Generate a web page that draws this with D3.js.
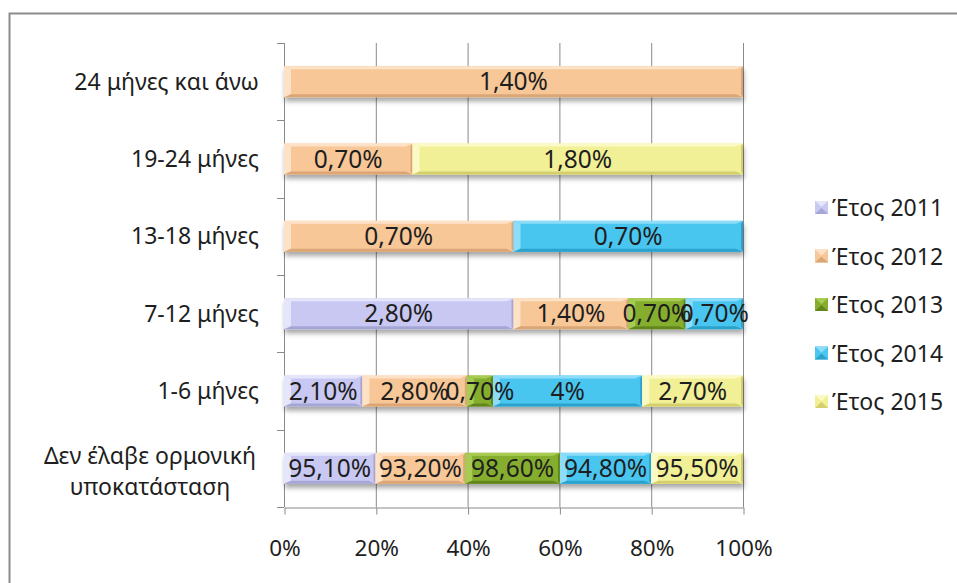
<!DOCTYPE html>
<html>
<head>
<meta charset="utf-8">
<script src="https://cdn.jsdelivr.net/npm/d3@7"></script>
<style>
  html, body { margin: 0; padding: 0; background: #fff; }
  svg { display: block; }
  text { font-family: "Noto Sans", "Open Sans", sans-serif; fill: #1e1e1e; }
</style>
</head>
<body>
<svg id="chart" width="957" height="583"></svg>
<script>
// Duration categories, bottom to top
const categories = [
  ["Δεν έλαβε ορμονική", "υποκατάσταση"],
  ["1-6 μήνες"],
  ["7-12 μήνες"],
  ["13-18 μήνες"],
  ["19-24 μήνες"],
  ["24 μήνες και άνω"]
];
const seriesNames = ["Έτος 2011", "Έτος 2012", "Έτος 2013", "Έτος 2014", "Έτος 2015"];
// Percentages per year, one entry per category (same order as categories)
const year2011 = [95.1, 2.1, 2.8, 0,   0,   0];
const year2012 = [93.2, 2.8, 1.4, 0.7, 0.7, 1.4];
const year2013 = [98.6, 0.7, 0.7, 0,   0,   0];
const year2014 = [94.8, 4.0, 0.7, 0.7, 0,   0];
const year2015 = [95.5, 2.7, 0,   0,   1.8, 0];
const xTicks = [0, 0.2, 0.4, 0.6, 0.8, 1];

const seriesValues = [year2011, year2012, year2013, year2014, year2015];
const colors = [
  { base: "#c8c8f2", light: "#e6e6fb", dark: "#a6a6d6" },
  { base: "#f8c797", light: "#fde2c8", dark: "#dba676" },
  { base: "#86ae2e", light: "#a8cc52", dark: "#62861c" },
  { base: "#4ac6f0", light: "#8ddcf8", dark: "#2aa2cc" },
  { base: "#f2f096", light: "#fbfac6", dark: "#d2cf6c" }
];

const svg = d3.select("#chart");

// frame
svg.append("path")
  .attr("d", "M9.5,583 V13.5 H957")
  .attr("fill", "none").attr("stroke", "#8c8c8c").attr("stroke-width", 2);

const plot = { left: 284, right: 743, top: 43, bottom: 507 };

const x = d3.scaleLinear().domain([0, 1]).range([plot.left, plot.right]);
const y = d3.scaleBand()
  .domain(d3.range(categories.length).reverse())
  .range([plot.top, plot.bottom])
  .paddingInner(0.6).paddingOuter(0.3);

const defs = svg.append("defs");
const shadow = defs.append("filter").attr("id", "shadow")
  .attr("x", "-5%").attr("y", "-20%").attr("width", "110%").attr("height", "160%");
shadow.append("feGaussianBlur").attr("in", "SourceAlpha").attr("stdDeviation", 2.5);
shadow.append("feOffset").attr("dx", 1).attr("dy", 4).attr("result", "blur");
shadow.append("feComponentTransfer").append("feFuncA").attr("type", "linear").attr("slope", 0.35);
const merge = shadow.append("feMerge");
merge.append("feMergeNode");
merge.append("feMergeNode").attr("in", "SourceGraphic");

// gridlines
const grid = svg.append("g");
grid.selectAll("line").data(xTicks.slice(1)).join("line")
  .attr("x1", d => x(d) + 0.5).attr("x2", d => x(d) + 0.5)
  .attr("y1", plot.top).attr("y2", plot.bottom)
  .attr("stroke", "#8a8a8a").attr("stroke-width", 1);

// x axis
const xAxis = d3.axisBottom(x).tickValues(xTicks)
  .tickFormat(d3.format(".0%")).tickSizeInner(7).tickSizeOuter(0).tickPadding(26);
const gx = svg.append("g").attr("transform", `translate(0.5,${plot.bottom + 0.5})`).call(xAxis);
gx.select(".domain").attr("stroke", "#8a8a8a");
gx.selectAll(".tick line").attr("stroke", "#8a8a8a");
gx.selectAll(".tick text").attr("font-size", 22.5).attr("fill", "#1e1e1e")
  .attr("font-family", "Noto Sans, sans-serif");

// y axis line with ticks at band boundaries
const bandStep = (plot.bottom - plot.top) / categories.length;
const gy = svg.append("g");
gy.append("line").attr("x1", plot.left + 0.5).attr("x2", plot.left + 0.5)
  .attr("y1", plot.top).attr("y2", plot.bottom).attr("stroke", "#8a8a8a");
gy.selectAll("line.tk").data(d3.range(categories.length + 1)).join("line")
  .attr("class", "tk")
  .attr("x1", plot.left - 7).attr("x2", plot.left)
  .attr("y1", i => Math.round(plot.top + i * bandStep) + 0.5)
  .attr("y2", i => Math.round(plot.top + i * bandStep) + 0.5)
  .attr("stroke", "#8a8a8a");

// category labels
categories.forEach((lines, i) => {
  const cy = plot.top + (categories.length - 1 - i + 0.5) * bandStep;
  const multi = lines.length > 1;
  const t = svg.append("text").attr("font-size", 23)
    .attr("text-anchor", multi ? "middle" : "end");
  const lx = multi ? 150 : 259;
  lines.forEach((ln, k) => {
    t.append("tspan").attr("x", lx)
      .attr("y", cy + (multi ? 3 : 0) + (k - (lines.length - 1) / 2) * 31)
      .attr("dy", "0.35em").text(ln);
  });
});

// stacked segments, normalised per category
const rows = categories.map((c, i) => {
  const vals = seriesValues.map(s => s[i]);
  const total = d3.sum(vals);
  let acc = 0;
  return vals.map((v, s) => {
    const seg = { cat: i, s, v, x0: acc / total, x1: (acc + v) / total };
    acc += v;
    return seg;
  }).filter(d => d.v > 0);
});

const fmt = v => d3.format(v % 1 === 0 ? ".0f" : ".2f")(v).replace(".", ",") + "%";

const bars = svg.append("g");
rows.forEach(segs => {
  const row = bars.append("g").attr("filter", "url(#shadow)");
  segs.forEach(d => {
    const x0 = x(d.x0), x1 = x(d.x1);
    const y0 = y(d.cat), y1 = y0 + y.bandwidth();
    const c = colors[d.s];
    const b = Math.min(7, (x1 - x0) / 2, (y1 - y0) / 2);
    const g = row.append("g");
    g.append("rect").attr("x", x0).attr("y", y0).attr("width", x1 - x0).attr("height", y1 - y0)
      .attr("fill", c.base);
    const poly = (pts, fill) => g.append("polygon")
      .attr("points", pts.map(p => p.join(",")).join(" ")).attr("fill", fill);
    poly([[x0, y0], [x1, y0], [x1 - b, y0 + 3], [x0 + b, y0 + 3]], c.light);
    poly([[x0, y0], [x0 + b, y0 + 3], [x0 + b, y1 - 3], [x0, y1]], c.light);
    poly([[x0, y1], [x1, y1], [x1 - b, y1 - 3], [x0 + b, y1 - 3]], c.dark);
    poly([[x1, y0], [x1, y1], [x1 - 2, y1 - 3], [x1 - 2, y0 + 3]], c.dark);
  });
});

// value labels
const labels = svg.append("g");
rows.flat().forEach(d => {
  labels.append("text")
    .attr("x", (x(d.x0) + x(d.x1)) / 2)
    .attr("y", y(d.cat) + y.bandwidth() / 2)
    .attr("dy", "0.36em").attr("text-anchor", "middle").attr("font-size", 24.5)
    .text(fmt(d.v));
});

// legend
const legend = svg.append("g");
seriesNames.forEach((name, i) => {
  const ly = 208 + i * 48.5;
  const c = colors[i];
  const g = legend.append("g");
  g.append("rect").attr("x", 815).attr("y", ly - 7).attr("width", 13).attr("height", 13).attr("fill", c.base);
  g.append("polygon").attr("points", `815,${ly - 7} 828,${ly - 7} 821.5,${ly - 1}`).attr("fill", c.light);
  g.append("polygon").attr("points", `815,${ly + 6} 828,${ly + 6} 821.5,${ly}`).attr("fill", c.dark);
  g.append("text").attr("x", 832).attr("y", ly).attr("dy", "0.35em").attr("font-size", 23).text(name);
});
</script>
</body>
</html>
